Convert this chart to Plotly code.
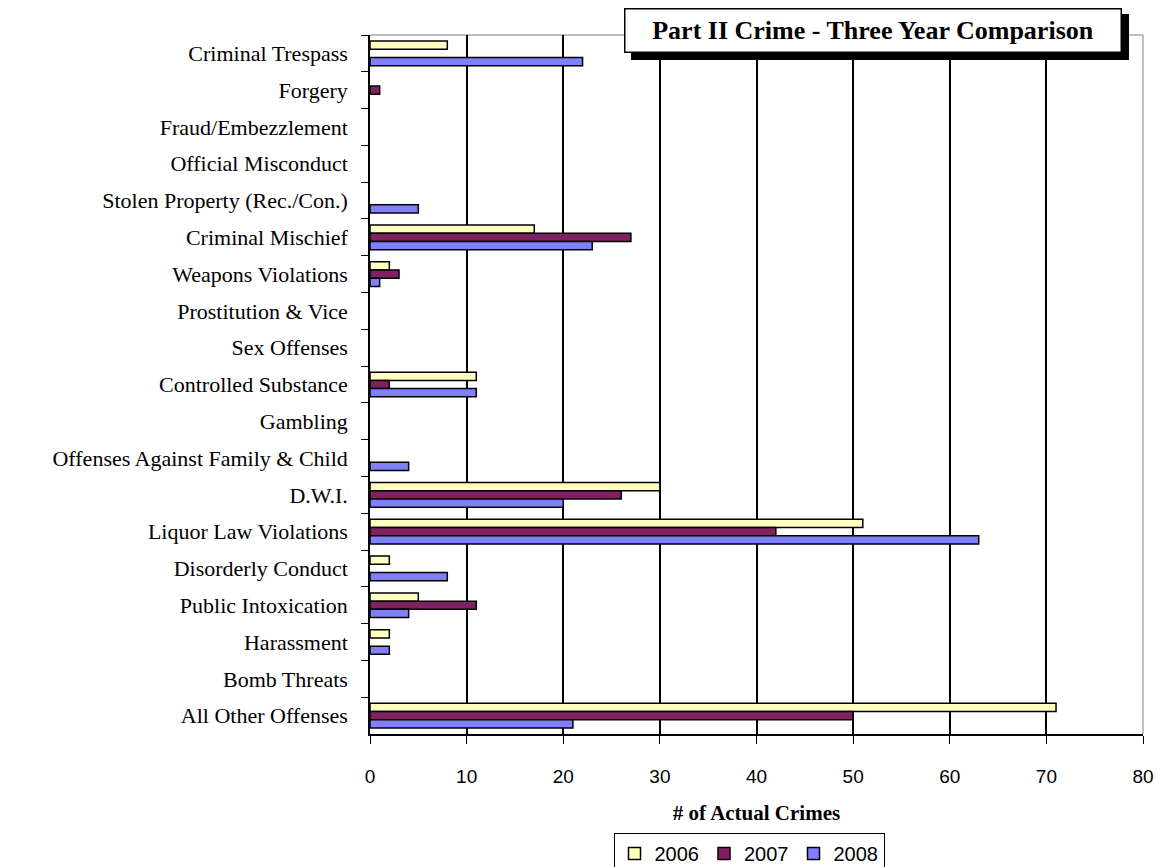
import plotly.graph_objects as go

categories = [
    "Criminal Trespass", "Forgery", "Fraud/Embezzlement", "Official Misconduct",
    "Stolen Property (Rec./Con.)", "Criminal Mischief", "Weapons Violations",
    "Prostitution & Vice", "Sex Offenses", "Controlled Substance", "Gambling",
    "Offenses Against Family & Child", "D.W.I.", "Liquor Law Violations",
    "Disorderly Conduct", "Public Intoxication", "Harassment", "Bomb Threats",
    "All Other Offenses",
]
crimes_2006 = [8, 0, 0, 0, 0, 17, 2, 0, 0, 11, 0, 0, 30, 51, 2, 5, 2, 0, 71]
crimes_2007 = [0, 1, 0, 0, 0, 27, 3, 0, 0, 2, 0, 0, 26, 42, 0, 11, 0, 0, 50]
crimes_2008 = [22, 0, 0, 0, 5, 23, 1, 0, 0, 11, 0, 4, 20, 63, 8, 4, 2, 0, 21]
years = ["2006", "2007", "2008"]
colors = ["#FFFFC0", "#802060", "#8080FF"]

serif = "Liberation Serif, Times New Roman, serif"
sans = "Liberation Sans, Arial, sans-serif"

# body margin is zeroed after render (see post_script), so figure = window
W, H = 1156, 867
PL, PT, PR, PB = 370, 35, 1143, 734   # plot area in page pixels
PW, PH = PR - PL, PB - PT


def px(x):
    return (x - PL) / PW


def py(y):
    return (PB - y) / PH


fig = go.Figure()
for name, vals, col in zip(years, [crimes_2006, crimes_2007, crimes_2008], colors):
    # zero counts get no bar (otherwise the outline shows as a sliver)
    fig.add_trace(go.Bar(
        x=[v if v else None for v in vals], y=categories, name=name, orientation="h",
        marker=dict(color=col, line=dict(color="black", width=1.5)),
    ))

# title box with drop shadow
fig.add_shape(type="rect", xref="paper", yref="paper",
              x0=px(631), x1=px(1129), y0=py(60), y1=py(14),
              fillcolor="black", line=dict(width=0), layer="above")
fig.add_annotation(
    text="<b>Part II Crime - Three Year Comparison</b>",
    xref="paper", yref="paper", x=px(873), y=py(30),
    xanchor="center", yanchor="middle", showarrow=False,
    font=dict(family=serif, size=26, color="black"),
    bgcolor="white", bordercolor="black", borderwidth=1.5,
    width=493, height=40,
)

fig.update_layout(
    width=W, height=H,
    margin=dict(l=PL, r=W - PR, t=PT, b=H - PB, autoexpand=False),
    paper_bgcolor="white", plot_bgcolor="white",
    barmode="group", bargap=0.33, bargroupgap=0,
    showlegend=True,
    legend=dict(
        orientation="h", x=px(749), y=py(833),
        xanchor="center", yanchor="top",
        bordercolor="black", borderwidth=1,
        font=dict(family=sans, size=20, color="black"),
        itemwidth=30, tracegroupgap=0,
    ),
    xaxis=dict(
        range=[0, 80], dtick=10, showgrid=True, gridcolor="black", gridwidth=1.5,
        zeroline=False, showline=True, linecolor="black", linewidth=1.5,
        mirror=False, ticks="outside", ticklen=8, tickcolor="black",
        tickfont=dict(family=sans, size=19, color="black"),
        ticklabelstandoff=16, automargin=False,
        title=dict(text="<b># of Actual Crimes</b>", standoff=20,
                   font=dict(family=serif, size=21, color="black")),
    ),
    yaxis=dict(
        autorange="reversed", showgrid=False, zeroline=False,
        showline=True, linecolor="black", linewidth=1.5,
        ticks="outside", ticklen=7, tickcolor="black", tickson="boundaries",
        tickfont=dict(family=serif, size=22, color="black"),
        ticklabelstandoff=16, automargin=False,
    ),
)
# thin grey frame on top and right
fig.add_shape(type="line", xref="paper", yref="paper", x0=0, x1=1, y0=1, y1=1,
              line=dict(color="#808080", width=1), layer="below")
fig.add_shape(type="line", xref="paper", yref="paper", x0=1, x1=1, y0=0, y1=1,
              line=dict(color="#808080", width=1), layer="below")

fig.write_html("out.html", config={"displayModeBar": False},
               post_script="document.body.style.margin='0';")
